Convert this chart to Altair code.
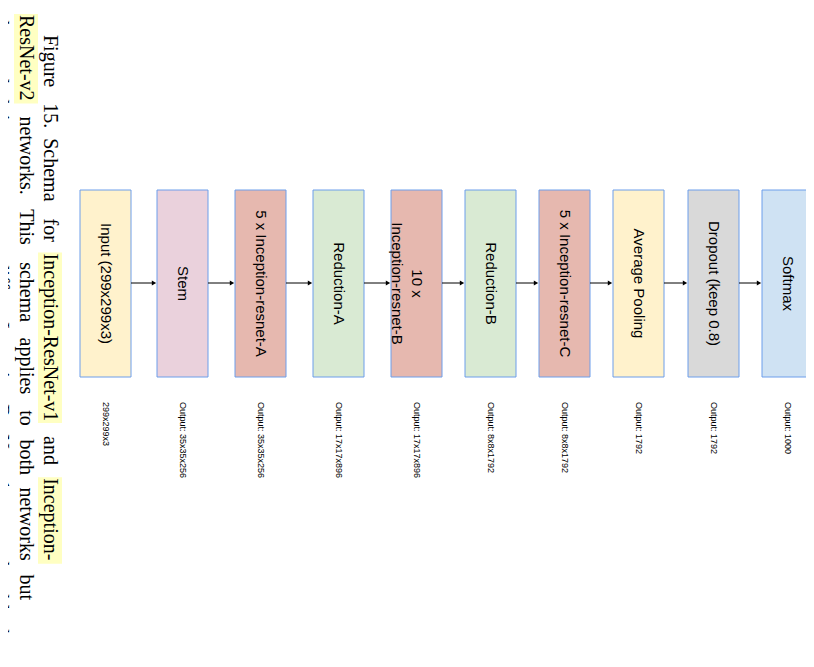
import altair as alt
import pandas as pd

# Blocks of the schema, left to right
labels = ["Input (299x299x3)", "Stem", "5 x Inception-resnet-A", "Reduction-A",
          "10 x\nInception-resnet-B", "Reduction-B", "5 x Inception-resnet-C",
          "Average Pooling", "Dropout (keep 0.8)", "Softmax"]
outputs = ["299x299x3", "Output: 35x35x256", "Output: 35x35x256", "Output: 17x17x896",
           "Output: 17x17x896", "Output: 8x8x1792", "Output: 8x8x1792",
           "Output: 1792", "Output: 1792", "Output: 1000"]
fills = ["#fff2cc", "#ead1dc", "#e6b8af", "#d9ead3", "#e6b8af", "#d9ead3",
         "#e6b8af", "#fff2cc", "#d9d9d9", "#cfe2f3"]
left_edges = [80, 157, 235, 313, 391, 465, 539, 613, 688, 762]
BOX_W, TOP, BOTTOM, ARROW_Y = 51, 190, 377, 283

captions = ["Figure 15. Schema for Inception-ResNet-v1 and Inception-",
            "ResNet-v2 networks. This schema applies to both networks but",
            "the underlying components differ. Inception-ResNet-v1 uses the blocks"]
highlighted = {0: ["Inception-ResNet-v1", "Inception-"], 1: ["ResNet-v2"], 2: []}
caption_x = [50, 26, 1]
caption_start = [35, 15, 15]
CAP_END, CAP_FS = 652, 20

W, H = 798, 651
xs = alt.Scale(domain=[0, W], range=[0, W])
ys = alt.Scale(domain=[0, H], range=[0, H])
X = lambda f: alt.X(f, type="quantitative", scale=xs, axis=None)
Y = lambda f: alt.Y(f, type="quantitative", scale=ys, axis=None)

boxes = pd.DataFrame({
    "label": labels, "out": outputs, "fill": fills,
    "x": [l - 8 for l in left_edges], "x2": [l - 8 + BOX_W for l in left_edges],
    "y": TOP - 8, "y2": BOTTOM - 8,
})
boxes["cx"] = (boxes.x + boxes.x2) / 2
boxes["ym"] = (TOP + BOTTOM) / 2 - 8
boxes["yo"] = 392
boxes["label"] = boxes.label.str.split("\n")

arrows = pd.DataFrame({"x": boxes.x2[:-1].values, "x2": boxes.x[1:].values - 3,
                       "y": ARROW_Y - 8})


# justified caption: spread words over the line length
def word_w(w):
    narrow = sum(c in "iltfrj.,-1I ()" for c in w)
    caps = sum(c.isupper() or c in "mwMW" for c in w)
    return CAP_FS * (0.47 * (len(w) - narrow - caps) + 0.29 * narrow + 0.72 * caps)


rows, hls = [], []
for i, line in enumerate(captions):
    words = line.split(" ")
    widths = [word_w(w) for w in words]
    gap = (CAP_END - caption_start[i] - sum(widths)) / (len(words) - 1)
    gap = min(gap, 14)
    pos = caption_start[i] - 8
    for w, ww in zip(words, widths):
        rows.append({"t": w, "x": caption_x[i] - 8, "y": pos})
        if w in highlighted[i]:
            hls.append({"x": caption_x[i] - 20, "x2": caption_x[i] + 4,
                        "y": pos - 1, "y2": pos + ww + 1})
        pos += ww + gap
cap = pd.DataFrame(rows)
hl = pd.DataFrame(hls)

rect = alt.Chart(boxes).mark_rect(stroke="#6d9eeb", strokeWidth=1).encode(
    x=X("x"), x2="x2", y=Y("y"), y2="y2", color=alt.Color("fill:N", scale=None))
text = alt.Chart(boxes).mark_text(angle=90, font="Liberation Sans", fontSize=15,
                                  lineHeight=20).encode(
    x=X("cx"), y=Y("ym"), text="label")
outs = alt.Chart(boxes).mark_text(angle=90, font="Liberation Sans", fontSize=9,
                                  align="left", dx=2).encode(
    x=X("cx"), y=Y("yo"), text="out")
lines = alt.Chart(arrows).mark_rule(color="black", strokeWidth=1).encode(
    x=X("x"), x2="x2", y=Y("y"))
heads = alt.Chart(arrows).mark_point(shape="triangle-right", filled=True, size=25,
                                     color="black", opacity=1).encode(x=X("x2"), y=Y("y"))
high = alt.Chart(hl).mark_rect(color="#ffffc2").encode(x=X("x"), x2="x2", y=Y("y"), y2="y2")
ctext = alt.Chart(cap).mark_text(angle=90, font="Liberation Serif", fontSize=CAP_FS,
                                 align="left", baseline="middle").encode(
    x=X("x"), y=Y("y"), text="t")

chart = alt.layer(high, ctext, rect, text, outs, lines, heads).properties(
    width=W, height=H, padding=0, autosize="none"
).configure_view(stroke=None)

chart.save("out.html", embed_options={"renderer": "svg", "actions": False})
